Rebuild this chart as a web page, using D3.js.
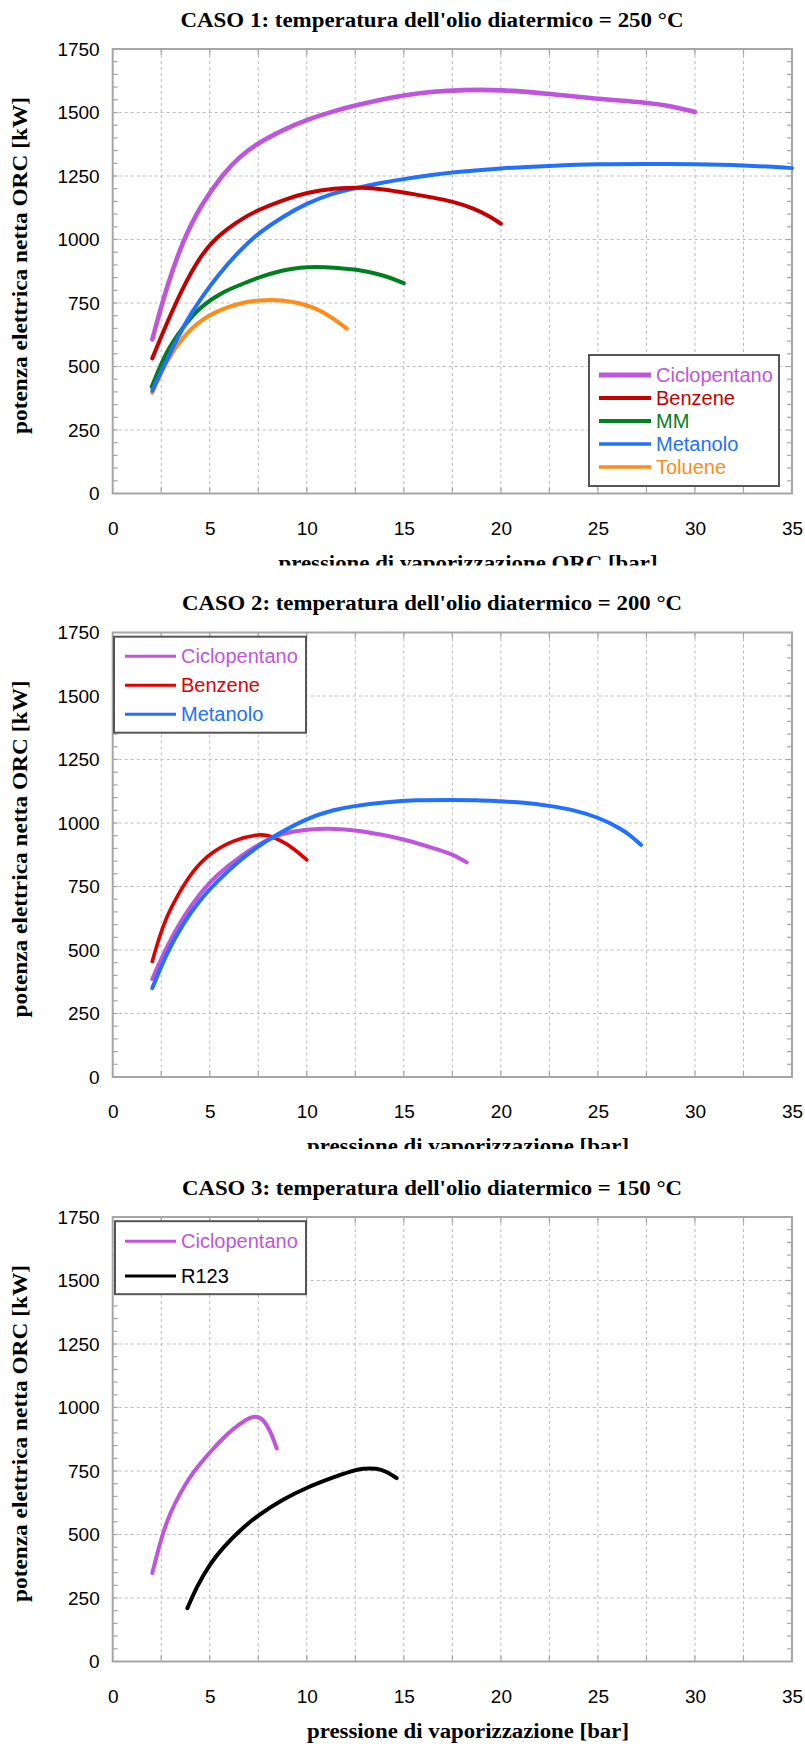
<!DOCTYPE html>
<html>
<head>
<meta charset="utf-8">
<script src="https://cdn.jsdelivr.net/npm/d3@7"></script>
<style>
  html, body { margin: 0; padding: 0; background: #fff; }
  svg { display: block; }
</style>
</head>
<body>
<svg id="chart" width="805" height="1744"></svg>
<script>
// ---------------- DATA ----------------
const xTicks = [0, 5, 10, 15, 20, 25, 30, 35];
const yTicks = [0, 250, 500, 750, 1000, 1250, 1500, 1750];

const titles = [
  "CASO 1: temperatura dell'olio diatermico = 250 °C",
  "CASO 2: temperatura dell'olio diatermico = 200 °C",
  "CASO 3: temperatura dell'olio diatermico = 150 °C"
];
const xLabels = [
  "pressione di vaporizzazione ORC [bar]",
  "pressione di vaporizzazione [bar]",
  "pressione di vaporizzazione [bar]"
];
const yLabel = "potenza elettrica netta ORC [kW]";

// CASO 1 (250 °C)
const caso1Ciclopentano = [[2.04,607],[2.78,815],[3.64,999],[4.5,1130],[5.7,1261],[6.56,1327],[7.42,1377],[8.79,1432],[10,1472],[11.37,1505],[12.5,1528],[13.94,1553],[15,1568],[16.52,1583],[18,1589],[20,1590],[22.5,1574],[25,1553],[27.5,1540],[28.9,1524],[30,1502]];
const caso1Benzene = [[2.04,532],[2.78,670],[3.64,815],[4.5,933],[5.36,1012],[6.56,1078],[7.5,1117],[8.79,1156],[10,1185],[11.37,1202],[12.9,1206],[13.94,1198],[15,1185],[16.52,1165],[17.5,1150],[18.58,1124],[19.44,1091],[20,1062]];
const caso1MM = [[2.01,420],[2.78,565],[3.64,657],[4.5,736],[5.7,795],[6.56,821],[7.5,851],[8.79,880],[9.65,890],[10.51,892],[11.37,890],[12.5,883],[13.94,861],[15,828]];
const caso1Metanolo = [[2.04,405],[2.78,526],[3.81,683],[4.5,762],[5.36,854],[6.56,959],[7.5,1025],[8.79,1091],[10,1143],[11.37,1183],[12.5,1202],[13.94,1225],[15,1238],[16.52,1255],[17.5,1265],[20,1281],[22.5,1290],[25,1297],[27.5,1297],[30,1297],[32.5,1293],[35,1281]];
const caso1Toluene = [[2.04,397],[2.78,526],[3.64,618],[4.5,683],[5.7,729],[6.56,749],[7.5,762],[8.79,762],[9.65,749],[10.51,729],[11.37,690],[12.06,649]];

// CASO 2 (200 °C)
const caso2Ciclopentano = [[2.04,386],[2.78,514],[3.64,632],[4.5,724],[5.36,796],[6.56,868],[7.5,914],[8.28,947],[9.31,970],[11.03,980],[12.5,973],[13.94,953],[15,936],[16.52,901],[17.5,878],[18.24,845]];
const caso2Benzene = [[2.04,455],[2.35,540],[2.78,632],[3.3,711],[4.16,816],[5.01,881],[6.22,934],[7.5,956],[7.93,953],[8.62,934],[9.31,901],[10,855]];
const caso2Metanolo = [[2.04,350],[2.78,488],[3.64,606],[4.5,698],[5.36,770],[6.56,855],[7.5,908],[8.28,947],[10,1019],[11.37,1052],[12.5,1068],[13.94,1081],[15.66,1091],[17.5,1091],[18.75,1091],[20,1085],[21.16,1081],[22.5,1068],[23.73,1052],[25,1023],[26.14,980],[26.65,953],[27.22,914]];

// CASO 3 (150 °C)
const caso3Ciclopentano = [[2.04,348],[2.52,492],[2.95,584],[3.47,662],[3.98,728],[4.5,778],[5.01,824],[5.7,880],[6.22,917],[6.9,955],[7.25,964],[7.5,963],[7.76,953],[8.11,911],[8.45,839]];
const caso3R123 = [[3.85,210],[4.33,295],[5.01,385],[5.7,450],[6.56,517],[7.5,577],[8.79,640],[10,685],[11.37,725],[12.3,750],[12.9,760],[13.6,761],[14.1,748],[14.63,722]];

// ---------------- STYLES / LAYOUT ----------------
const C_PURPLE = "#BF55DC", C_RED1 = "#C40000", C_RED2 = "#E00000", C_GREEN = "#007F1E",
      C_BLUE = "#2170FF", C_ORANGE = "#FF8C1A", C_BLACK = "#000000";

const charts = [
  {
    top: 49, title: titles[0], xLabel: xLabels[0], titleLen: 503, xLabelLen: 379,
    series: [
      { name: "Ciclopentano", data: caso1Ciclopentano, color: C_PURPLE, w: 4.6, lw: 5 },
      { name: "Benzene", data: caso1Benzene, color: C_RED1, w: 4, lw: 4 },
      { name: "MM", data: caso1MM, color: C_GREEN, w: 4, lw: 4 },
      { name: "Metanolo", data: caso1Metanolo, color: C_BLUE, w: 4, lw: 3.5 },
      { name: "Toluene", data: caso1Toluene, color: C_ORANGE, w: 4, lw: 3.5 }
    ],
    drawOrder: [4, 2, 3, 1, 0],
    legend: { x: 589, y: 306, w: 190, h: 131, rowY: 20, rowStep: 23, lineX: 10, lineLen: 52, textX: 67 }
  },
  {
    top: 632.5, title: titles[1], xLabel: xLabels[1], titleLen: 500, xLabelLen: 322,
    series: [
      { name: "Ciclopentano", data: caso2Ciclopentano, color: C_PURPLE, w: 4, lw: 3 },
      { name: "Benzene", data: caso2Benzene, color: C_RED2, w: 3.6, lw: 3 },
      { name: "Metanolo", data: caso2Metanolo, color: C_BLUE, w: 4, lw: 3 }
    ],
    drawOrder: [1, 0, 2],
    legend: { x: 114, y: 4.2, w: 192, h: 96, rowY: 19.5, rowStep: 29, lineX: 11, lineLen: 51, textX: 67 }
  },
  {
    top: 1217, title: titles[2], xLabel: xLabels[2], titleLen: 500, xLabelLen: 322,
    series: [
      { name: "Ciclopentano", data: caso3Ciclopentano, color: C_PURPLE, w: 4, lw: 3 },
      { name: "R123", data: caso3R123, color: C_BLACK, w: 4, lw: 3 }
    ],
    drawOrder: [0, 1],
    legend: { x: 115, y: 4.2, w: 191, h: 73, rowY: 20, rowStep: 34.7, lineX: 10, lineLen: 51, textX: 66 }
  }
];

const plotLeft = 112.7, plotWidth = 679.3, plotHeight = 444.5;
const svg = d3.select("#chart");
const GRID = "#bdbdbd", FRAME = "#a6a6a6";

charts.forEach((cfg, ci) => {
  const g = svg.append("g").attr("transform", `translate(${plotLeft},${cfg.top})`);
  const x = d3.scaleLinear().domain([0, 35]).range([0, plotWidth]);
  const y = d3.scaleLinear().domain([0, 1750]).range([plotHeight, 0]);

  // Title
  svg.append("text")
    .attr("x", 432).attr("y", cfg.top - 22.5)
    .attr("text-anchor", "middle")
    .attr("font-family", "'Liberation Serif', 'Times New Roman', serif")
    .attr("font-weight", "bold").attr("font-size", 20.5)
    .attr("textLength", cfg.titleLen).attr("lengthAdjust", "spacingAndGlyphs")
    .text(cfg.title);

  // grid
  const xGrid = d3.range(2.5, 35, 2.5);
  g.append("g").selectAll("line").data(xGrid).join("line")
    .attr("x1", d => x(d)).attr("x2", d => x(d))
    .attr("y1", 0).attr("y2", plotHeight)
    .attr("stroke", GRID).attr("stroke-width", 1).attr("stroke-dasharray", "3,3");
  const yGrid = d3.range(250, 1750, 250);
  g.append("g").selectAll("line").data(yGrid).join("line")
    .attr("x1", 0).attr("x2", plotWidth)
    .attr("y1", d => y(d)).attr("y2", d => y(d))
    .attr("stroke", GRID).attr("stroke-width", 1).attr("stroke-dasharray", "3,3");

  // minor ticks (inside)
  const yMinor = d3.range(50, 1750, 50);
  g.append("g").selectAll("line").data(yMinor).join("line")
    .attr("x1", 0).attr("x2", 5).attr("y1", d => y(d)).attr("y2", d => y(d))
    .attr("stroke", FRAME).attr("stroke-width", 1.2);
  g.append("g").selectAll("line").data(yMinor).join("line")
    .attr("x1", plotWidth - 5).attr("x2", plotWidth).attr("y1", d => y(d)).attr("y2", d => y(d))
    .attr("stroke", FRAME).attr("stroke-width", 1.2);
  g.append("g").selectAll("line").data(xGrid).join("line")
    .attr("x1", d => x(d)).attr("x2", d => x(d)).attr("y1", plotHeight - 6).attr("y2", plotHeight)
    .attr("stroke", FRAME).attr("stroke-width", 1.2);
  g.append("g").selectAll("line").data(xGrid).join("line")
    .attr("x1", d => x(d)).attr("x2", d => x(d)).attr("y1", 0).attr("y2", 6)
    .attr("stroke", FRAME).attr("stroke-width", 1.2);

  // frame
  g.append("rect").attr("x", 0).attr("y", 0).attr("width", plotWidth).attr("height", plotHeight)
    .attr("fill", "none").attr("stroke", FRAME).attr("stroke-width", 2);

  // axes tick labels using d3 axes
  const yAxis = d3.axisLeft(y).tickValues(yTicks).tickFormat(d3.format("d")).tickSize(0).tickPadding(13);
  const ya = g.append("g").call(yAxis);
  ya.select(".domain").remove();
  ya.selectAll("text").attr("font-family", "'Liberation Sans', Arial, sans-serif")
    .attr("font-size", 19).attr("fill", "#000");

  const xAxis = d3.axisBottom(x).tickValues(xTicks).tickFormat(d3.format("d")).tickSize(0).tickPadding(0);
  const xa = g.append("g").attr("transform", `translate(0,${plotHeight})`).call(xAxis);
  xa.select(".domain").remove();
  xa.selectAll("text").attr("font-family", "'Liberation Sans', Arial, sans-serif")
    .attr("font-size", 19).attr("fill", "#000").attr("dy", null).attr("y", 41);

  // x label (clipped for first two charts)
  const clipId = "xclip" + ci;
  const clipBottom = ci === 2 ? 2000 : 72;
  svg.append("clipPath").attr("id", clipId).append("rect")
    .attr("x", 0).attr("y", cfg.top + plotHeight).attr("width", 805).attr("height", clipBottom);
  svg.append("text")
    .attr("clip-path", `url(#${clipId})`)
    .attr("x", 468).attr("y", cfg.top + plotHeight + 76)
    .attr("text-anchor", "middle")
    .attr("font-family", "'Liberation Serif', 'Times New Roman', serif")
    .attr("font-weight", "bold").attr("font-size", 20.5)
    .attr("textLength", cfg.xLabelLen).attr("lengthAdjust", "spacingAndGlyphs")
    .text(cfg.xLabel);

  // y label
  const yc = cfg.top + 216.5;
  svg.append("text")
    .attr("transform", `translate(27,${yc}) rotate(-90)`)
    .attr("text-anchor", "middle")
    .attr("font-family", "'Liberation Serif', 'Times New Roman', serif")
    .attr("font-weight", "bold").attr("font-size", 20.5)
    .attr("textLength", 337).attr("lengthAdjust", "spacingAndGlyphs")
    .text(yLabel);

  // series
  const line = d3.line().x(d => x(d[0])).y(d => y(d[1])).curve(d3.curveBasis);
  cfg.drawOrder.forEach(i => {
    const s = cfg.series[i];
    g.append("path").datum(s.data).attr("d", line)
      .attr("fill", "none").attr("stroke", s.color).attr("stroke-width", s.w)
      .attr("stroke-linecap", "round").attr("stroke-linejoin", "round");
  });

  // legend
  const L = cfg.legend;
  const lg = svg.append("g").attr("transform", `translate(${L.x},${cfg.top + L.y})`);
  lg.append("rect").attr("width", L.w).attr("height", L.h)
    .attr("fill", "#fff").attr("stroke", "#555").attr("stroke-width", 2);
  cfg.series.forEach((s, i) => {
    const ry = L.rowY + i * L.rowStep;
    lg.append("line").attr("x1", L.lineX).attr("x2", L.lineX + L.lineLen)
      .attr("y1", ry).attr("y2", ry).attr("stroke", s.color).attr("stroke-width", s.lw);
    lg.append("text").attr("x", L.textX).attr("y", ry + 7)
      .attr("font-family", "'Liberation Sans', Arial, sans-serif")
      .attr("font-size", 20).attr("fill", s.color).text(s.name);
  });
});
</script>
</body>
</html>
